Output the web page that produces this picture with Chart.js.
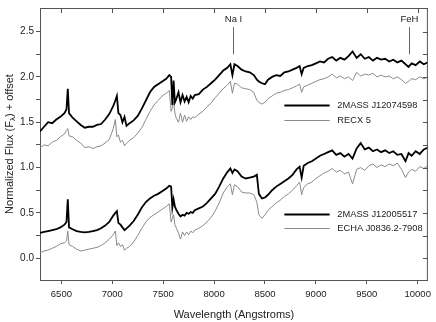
<!DOCTYPE html>
<html>
<head>
<meta charset="utf-8">
<script src="https://cdn.jsdelivr.net/npm/chart.js@4.4.0/dist/chart.umd.min.js"></script>
<style>
  html, body { margin: 0; padding: 0; background: #fff; }
</style>
</head>
<body>
<canvas id="spectra" width="436" height="322"></canvas>
<script>
// Comprimentos de onda (Angstroms) e fluxos
const waves = [
  6290, 6330, 6370, 6410, 6450, 6490, 6530, 6550, 6563, 6575,
  6610, 6650, 6690, 6730, 6770, 6810, 6850, 6890, 6930, 6970,
  7010, 7030, 7045, 7060, 7080, 7100, 7120, 7140, 7170, 7210,
  7250, 7290, 7330, 7370, 7410, 7450, 7490, 7530, 7560, 7578,
  7590, 7602, 7615, 7630, 7650, 7670, 7690, 7710, 7730, 7750,
  7770, 7790, 7810, 7850, 7890, 7930, 7970, 8010, 8050, 8090,
  8130, 8160, 8180, 8200, 8230, 8270, 8310, 8350, 8390, 8420,
  8440, 8470, 8500, 8530, 8570, 8610, 8650, 8690, 8730, 8770,
  8810, 8840, 8860, 8880, 8920, 8960, 9000, 9040, 9080, 9120,
  9160, 9200, 9240, 9280, 9320, 9360, 9400, 9440, 9480, 9520,
  9560, 9600, 9640, 9680, 9720, 9760, 9800, 9840, 9880, 9910,
  9940, 9980, 10020, 10060, 10100
];

const fluxJ1207 = [
  1.40, 1.45, 1.50, 1.49, 1.53, 1.56, 1.60, 1.64, 1.87, 1.60,
  1.55, 1.51, 1.47, 1.44, 1.45, 1.45, 1.47, 1.48, 1.53, 1.59,
  1.68, 1.74, 1.79, 1.60, 1.58, 1.50, 1.56, 1.46, 1.49, 1.52,
  1.57, 1.65, 1.74, 1.83, 1.89, 1.92, 1.95, 1.98, 2.02, 2.00,
  1.69, 1.96, 1.72, 1.76, 1.83, 1.72, 1.80, 1.73, 1.78, 1.72,
  1.79, 1.76, 1.80, 1.81, 1.86, 1.89, 1.93, 1.97, 2.02, 2.07,
  2.10, 2.14, 2.02, 2.14, 2.12, 2.08, 2.06, 2.05, 2.02, 1.97,
  1.95, 1.93, 1.92, 1.97, 2.00, 2.02, 2.01, 2.05, 2.06, 2.08,
  2.10, 2.12, 2.03, 2.10, 2.12, 2.13, 2.15, 2.17, 2.16, 2.20,
  2.22, 2.18, 2.21, 2.19, 2.23, 2.28, 2.21, 2.25, 2.20, 2.22,
  2.18, 2.21, 2.19, 2.20, 2.17, 2.19, 2.16, 2.18, 2.14, 2.11,
  2.15, 2.13, 2.17, 2.14, 2.16
];

const fluxRECX5 = [
  1.22, 1.25, 1.24, 1.28, 1.30, 1.34, 1.37, 1.41, 1.43, 1.35,
  1.34, 1.30, 1.27, 1.22, 1.23, 1.21, 1.23, 1.24, 1.27, 1.31,
  1.43, 1.53, 1.34, 1.36, 1.28, 1.30, 1.24, 1.27, 1.30, 1.33,
  1.38, 1.44, 1.53, 1.62, 1.69, 1.74, 1.79, 1.82, 1.85, 1.62,
  1.66, 1.73, 1.60, 1.54, 1.50, 1.60, 1.50, 1.58, 1.51, 1.56,
  1.53, 1.56, 1.55, 1.59, 1.62, 1.67, 1.71, 1.77, 1.82, 1.87,
  1.91, 1.95, 1.82, 1.93, 1.92, 1.88, 1.87, 1.86, 1.83, 1.74,
  1.72, 1.70, 1.72, 1.76, 1.79, 1.82, 1.83, 1.85, 1.86, 1.88,
  1.90, 1.92, 1.83, 1.89, 1.91, 1.93, 1.95, 1.97, 1.98, 2.00,
  2.03, 1.99, 2.01, 1.98, 2.00, 1.96, 2.05, 2.01, 2.03, 2.02,
  2.04, 2.00, 2.02, 2.00, 2.01, 1.98, 2.00, 1.97, 1.93, 1.95,
  1.98, 1.97, 2.00, 1.98, 2.00
];

const fluxJ1200 = [
  0.28, 0.29, 0.30, 0.31, 0.32, 0.34, 0.37, 0.40, 0.65, 0.34,
  0.32, 0.30, 0.29, 0.285, 0.29, 0.30, 0.31, 0.33, 0.36, 0.40,
  0.47, 0.50, 0.52, 0.39, 0.37, 0.34, 0.31, 0.33, 0.36, 0.41,
  0.48, 0.56, 0.62, 0.66, 0.69, 0.71, 0.74, 0.77, 0.80, 0.79,
  0.56, 0.65, 0.57, 0.53, 0.49, 0.46, 0.48, 0.47, 0.50, 0.49,
  0.51, 0.50, 0.53, 0.55, 0.57, 0.61, 0.66, 0.71, 0.79, 0.88,
  0.95, 0.99, 0.94, 0.98, 0.96, 0.90, 0.88, 0.89, 0.90, 0.92,
  0.71, 0.66, 0.67, 0.70, 0.75, 0.79, 0.82, 0.85, 0.88, 0.92,
  0.98, 1.01, 0.89, 1.02, 1.05, 1.07, 1.10, 1.13, 1.15, 1.17,
  1.19, 1.14, 1.16, 1.12, 1.15, 1.10, 1.21, 1.27, 1.20, 1.22,
  1.18, 1.20, 1.17, 1.19, 1.16, 1.18, 1.14, 1.15, 1.07, 1.16,
  1.13, 1.18, 1.15, 1.20, 1.22
];

const fluxECHA = [
  0.06, 0.08, 0.09, 0.11, 0.13, 0.16, 0.17, 0.19, 0.30, 0.15,
  0.13, 0.10, 0.08, 0.09, 0.10, 0.11, 0.12, 0.14, 0.17, 0.21,
  0.26, 0.30, 0.14, 0.17, 0.13, 0.15, 0.09, 0.11, 0.13, 0.18,
  0.25, 0.33, 0.40, 0.45, 0.48, 0.51, 0.54, 0.57, 0.60, 0.40,
  0.44, 0.48, 0.37, 0.33, 0.28, 0.21, 0.29, 0.25, 0.29, 0.26,
  0.30, 0.28, 0.31, 0.33, 0.36, 0.40, 0.45, 0.52, 0.61, 0.72,
  0.79, 0.82, 0.70, 0.81, 0.79, 0.73, 0.72, 0.72, 0.70, 0.62,
  0.48, 0.44, 0.48, 0.53, 0.57, 0.61, 0.64, 0.68, 0.71, 0.75,
  0.80, 0.84, 0.70, 0.78, 0.82, 0.84, 0.88, 0.91, 0.94, 0.96,
  0.99, 0.95, 0.97, 0.93, 0.95, 0.82, 0.98, 1.00, 0.97, 1.02,
  1.04, 1.00, 1.03, 1.01, 1.04, 1.02, 1.05, 0.98, 0.89, 0.95,
  0.98, 0.96, 1.01, 0.99, 1.02
];

const seriesNames = ["2MASS J12074598", "RECX 5", "2MASS J12005517", "ECHA J0836.2-7908"];

// Marcas dos eixos
const xTickValues = [6500, 7000, 7500, 8000, 8500, 9000, 9500, 10000];
const yTickValues = [0, 0.25, 0.5, 0.75, 1, 1.25, 1.5, 1.75, 2, 2.25, 2.5];
const yLabelValues = [0, 0.5, 1, 1.5, 2, 2.5];

// Linhas espectrais marcadas no topo
const lineLabels = ["Na I", "FeH"];
const lineWaves = [8185, 9910];

const FONT = "'Liberation Sans', Arial, sans-serif";
const AXIS = "#555";
const TEXT = "#222";
const GRAY = "#8a8a8a";

const toPoints = arr => arr.map((f, i) => ({ x: waves[i], y: f }));

// Legendas (posição em coordenadas de dados)
const legendRows = [1.69, 1.52, 0.49, 0.33];
const legendFrom = 8690, legendTo = 9135, legendText = 9210;

const decorations = {
    id: "decorations",
    afterDraw(chart) {
        const { ctx, chartArea: a, scales: { x, y } } = chart;
        ctx.save();

        // moldura superior e direita com marcas para dentro
        ctx.strokeStyle = AXIS;
        ctx.lineWidth = 1;
        ctx.beginPath();
        ctx.moveTo(a.left, a.top + 0.5);
        ctx.lineTo(a.right, a.top + 0.5);
        ctx.moveTo(a.right - 0.5, a.top);
        ctx.lineTo(a.right - 0.5, a.bottom);
        xTickValues.forEach(v => {
            const px = Math.round(x.getPixelForValue(v)) + 0.5;
            ctx.moveTo(px, a.top);
            ctx.lineTo(px, a.top + 5);
        });
        yTickValues.forEach(v => {
            const py = Math.round(y.getPixelForValue(v)) + 0.5;
            ctx.moveTo(a.right, py);
            ctx.lineTo(a.right - 5, py);
        });
        ctx.stroke();

        // linhas espectrais
        ctx.fillStyle = TEXT;
        ctx.font = "9.5px " + FONT;
        ctx.textAlign = "center";
        ctx.textBaseline = "middle";
        lineWaves.forEach((w, i) => {
            const px = Math.round(x.getPixelForValue(w)) + 0.5;
            ctx.strokeStyle = "#666";
            ctx.beginPath();
            ctx.moveTo(px, y.getPixelForValue(2.55));
            ctx.lineTo(px, y.getPixelForValue(2.25));
            ctx.stroke();
            ctx.fillText(lineLabels[i], px, y.getPixelForValue(2.64));
        });

        // legendas
        ctx.textAlign = "left";
        ctx.font = "9.3px " + FONT;
        chart.data.datasets.forEach((ds, i) => {
            const py = Math.round(y.getPixelForValue(legendRows[i])) + 0.5;
            ctx.strokeStyle = ds.borderColor;
            ctx.lineWidth = ds.borderWidth;
            ctx.beginPath();
            ctx.moveTo(x.getPixelForValue(legendFrom), py);
            ctx.lineTo(x.getPixelForValue(legendTo), py);
            ctx.stroke();
            ctx.fillStyle = TEXT;
            ctx.fillText(ds.label, x.getPixelForValue(legendText), py);
        });

        // título do eixo y com subscrito lambda
        const parts = [["Normalized Flux (F", 11, 0], ["\u03bb", 8, 3], [") + offset", 11, 0]];
        let total = 0;
        parts.forEach(p => { ctx.font = p[1] + "px " + FONT; total += ctx.measureText(p[0]).width; });
        ctx.translate(10, (a.top + a.bottom) / 2);
        ctx.rotate(-Math.PI / 2);
        let pos = -total / 2;
        parts.forEach(p => {
            ctx.font = p[1] + "px " + FONT;
            ctx.fillText(p[0], pos, p[2]);
            pos += ctx.measureText(p[0]).width;
        });
        ctx.restore();
    }
};

new Chart(document.getElementById("spectra"), {
    type: "line",
    data: {
        datasets: [
            { label: seriesNames[0], data: toPoints(fluxJ1207), borderColor: "#000", borderWidth: 1.8 },
            { label: seriesNames[1], data: toPoints(fluxRECX5), borderColor: GRAY, borderWidth: 1 },
            { label: seriesNames[2], data: toPoints(fluxJ1200), borderColor: "#000", borderWidth: 1.8 },
            { label: seriesNames[3], data: toPoints(fluxECHA), borderColor: GRAY, borderWidth: 1 }
        ]
    },
    options: {
        responsive: false,
        animation: false,
        devicePixelRatio: 1,
        layout: { padding: { top: 1, right: 3, left: 0, bottom: 0 } },
        elements: { point: { radius: 0 }, line: { tension: 0 } },
        plugins: { legend: { display: false }, tooltip: { enabled: false } },
        scales: {
            x: {
                type: "linear",
                min: 6290,
                max: 10100,
                afterFit: s => { s.height = 42; },
                afterBuildTicks: s => { s.ticks = xTickValues.map(v => ({ value: v })); },
                ticks: { font: { size: 9.5, family: FONT }, color: TEXT, padding: 5, maxRotation: 0,
                         callback: v => String(v) },
                grid: { drawOnChartArea: false, tickLength: 4, color: AXIS },
                border: { color: AXIS },
                title: { display: true, text: "Wavelength (Angstroms)", font: { size: 11, family: FONT },
                         color: TEXT, padding: { top: 0, bottom: 0 } }
            },
            y: {
                min: -0.24,
                max: 2.76,
                afterFit: s => { s.width = 40; },
                afterBuildTicks: s => { s.ticks = yTickValues.map(v => ({ value: v })); },
                ticks: { font: { size: 10, family: FONT }, color: TEXT, padding: 2,
                         callback: v => yLabelValues.includes(v) ? v.toFixed(1) : "" },
                grid: { drawOnChartArea: false, tickLength: 4, color: AXIS },
                border: { color: AXIS }
            }
        }
    },
    plugins: [decorations]
});
</script>
</body>
</html>
